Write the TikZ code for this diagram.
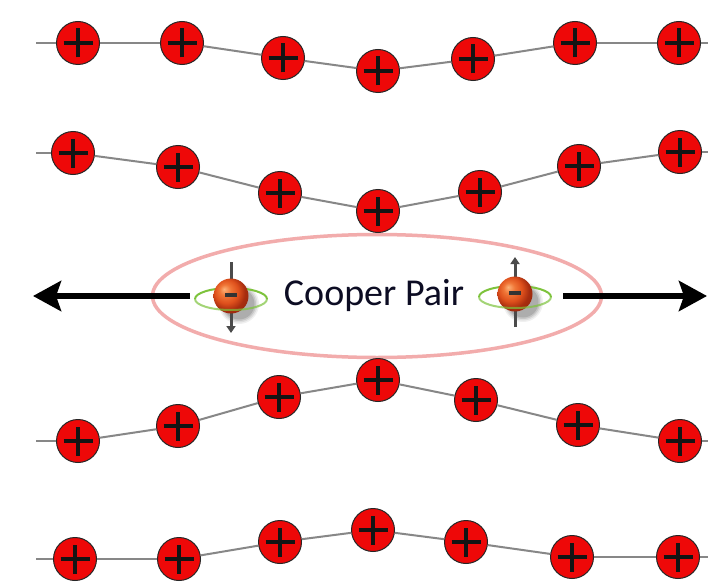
\documentclass[tikz,border=0pt]{standalone}
\usepackage{fontspec}
\setmainfont{Carlito}
\usetikzlibrary{arrows.meta,shapes.geometric}

\definecolor{ionred}{RGB}{238,8,8}
\definecolor{latticegray}{RGB}{135,135,135}
\definecolor{pairpink}{RGB}{242,172,172}
\definecolor{spingreen}{RGB}{125,195,60}
\definecolor{spingray}{RGB}{75,75,75}
\definecolor{labelink}{RGB}{12,12,35}

% glossy orange sphere for the electrons
\pgfdeclareradialshading{electronball}{\pgfqpoint{-10bp}{10bp}}{%
  color(0bp)=(rgb,255:red,252;green,178;blue,120);
  color(8bp)=(rgb,255:red,240;green,118;blue,55);
  color(17bp)=(rgb,255:red,222;green,80;blue,28);
  color(25bp)=(rgb,255:red,168;green,45;blue,15);
  color(50bp)=(rgb,255:red,110;green,25;blue,8)}

\tikzset{
  ion/.style={circle, minimum size=43pt, inner sep=0pt, fill=ionred,
    draw=black!85, line width=1pt,
    path picture={
      \draw[line width=3.8pt, black!92]
        ([xshift=-14.5pt]path picture bounding box.center) --
        ([xshift=14.5pt]path picture bounding box.center)
        ([yshift=-14.5pt]path picture bounding box.center) --
        ([yshift=14.5pt]path picture bounding box.center);
    }},
  bond/.style={latticegray, line width=2pt},
  pushing/.style={line width=6.5pt, black,
    -{Stealth[length=28pt, width=30pt, inset=5pt]}},
  ball/.style={circle, minimum size=35pt, inner sep=0pt, shading=electronball},
  spin/.style={spingray, line width=3pt, -{Triangle[length=7pt, width=9pt]}},
  orbit/.style={spingreen, line width=2pt},
}

\begin{document}
\begin{tikzpicture}[x=1pt, y=-1pt]
\useasboundingbox (0,0) rectangle (708,583);
\fill[white] (0,0) rectangle (708,583);

% the pair's envelope
\node[ellipse, draw=pairpink, line width=3.5pt, minimum width=449pt,
      minimum height=123pt, inner sep=0pt] (pair) at (377,296) {};

% four rows of lattice ions
\foreach \row/\pts in {
  a/{78/43,182/43,283/58,378/71,473/59,575/43,679/43},
  b/{73/153,178/167,280/193,378/211,480/192,579/166,680/152},
  c/{78/441,178/426,279/397,378/380,476/400,578/425,680/441},
  d/{75/559,179/559,280/542,373/530,466/542,572/557,678/557}} {
  \foreach \x/\y [count=\i] in \pts {
    \node[ion] (\row\i) at (\x,\y) {};
  }
}

% bonds between neighbouring ions
\foreach \row/\ly/\ry in {a/43/43, b/153/152, c/441/441, d/559/557} {
  \coordinate (\row L) at (36,\ly);
  \coordinate (\row R) at (708,\ry);
  \draw[bond] (\row L) -- (\row1);
  \foreach \i [evaluate=\i as \j using int(\i+1)] in {1,...,6} {
    \draw[bond] (\row\i) -- (\row\j);
  }
  \draw[bond] (\row7) -- (\row R);
}

% the two electrons
\foreach \nm/\cx/\cy/\sa/\sb in {e1/231/296/262/333, e2/515/294/327/257} {
  % soft shadow
  \foreach \k/\op in {4/0.06,3/0.08,2/0.10,1/0.12} {
    \fill[black, opacity=\op] (\cx+8,\cy+8) circle (14+\k*1.5);
  }
  % spin arrow
  \coordinate (\nm s) at (\cx,\sa);
  \coordinate (\nm t) at (\cx,\sb);
  \draw[spin] (\nm s) -- (\nm t);
  % back half of the orbit
  \draw[orbit] (\cx+36,\cy+3) arc[start angle=0, end angle=-180,
        x radius=36, y radius=11];
  \node[ball] (\nm) at (\cx,\cy) {};
  \fill[black!80] (\cx-6,\cy-3) rectangle (\cx+6,\cy+1);
  % front half of the orbit
  \draw[orbit, opacity=0.7] (\cx+36,\cy+3) arc[start angle=0, end angle=180,
        x radius=36, y radius=11];
}

% label
\node[text=labelink, font=\fontsize{38}{44}\selectfont, inner sep=0pt]
  (label) at (374,295) {Cooper Pair};

% forces pulling the pair apart
\coordinate (lft0) at (190,296);
\coordinate (lft1) at (33,296);
\coordinate (rgt0) at (563,296);
\coordinate (rgt1) at (707,296);
\draw[pushing] (lft0) -- (lft1);
\draw[pushing] (rgt0) -- (rgt1);
\end{tikzpicture}
\end{document}
